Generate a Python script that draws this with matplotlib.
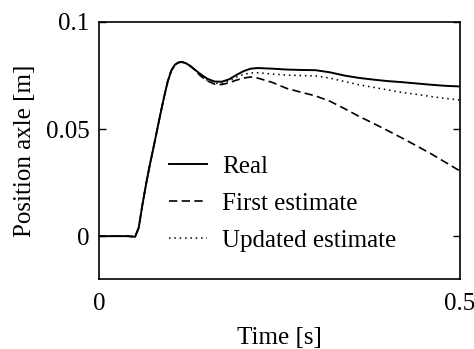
import matplotlib
matplotlib.use('Agg')
import matplotlib.pyplot as plt

# time [s]
t = [0.0, 0.04, 0.05, 0.055, 0.06, 0.065, 0.07, 0.075, 0.08, 0.085, 0.09, 0.095,
     0.10, 0.105, 0.11, 0.115, 0.12, 0.125, 0.13, 0.14, 0.15, 0.16, 0.17, 0.18,
     0.19, 0.20, 0.21, 0.22, 0.24, 0.26, 0.28, 0.30, 0.32, 0.34, 0.36, 0.38,
     0.40, 0.42, 0.44, 0.46, 0.48, 0.50]

# common part of the three curves (up to 0.13 s)
rise = [0.0, 0.0, -0.0003, 0.004, 0.0145, 0.024, 0.0327, 0.0407, 0.0488, 0.057,
        0.0648, 0.072, 0.0772, 0.0800, 0.0811, 0.0813, 0.0808, 0.0798, 0.0785]

real = rise + [0.0758, 0.0735, 0.0722, 0.0721, 0.0732, 0.0752, 0.0770, 0.0782,
               0.0785, 0.0782, 0.0778, 0.0776, 0.0775, 0.0765, 0.0750, 0.0739,
               0.0731, 0.0724, 0.0719, 0.0713, 0.0707, 0.0702, 0.0699]

first = rise + [0.0750, 0.0725, 0.0710, 0.0708, 0.0716, 0.0728, 0.0738, 0.0743,
                0.0738, 0.0718, 0.0690, 0.0672, 0.0655, 0.0630, 0.0596, 0.0560,
                0.0527, 0.0493, 0.0458, 0.0422, 0.0385, 0.0345, 0.0305]

updated = rise + [0.0753, 0.0728, 0.0714, 0.0713, 0.0724, 0.0742, 0.0755, 0.0762,
                  0.0763, 0.0757, 0.0752, 0.0750, 0.0748, 0.0738, 0.0722, 0.0707,
                  0.0695, 0.0683, 0.0671, 0.0662, 0.0652, 0.0643, 0.0636]

plt.rcParams['font.family'] = 'Liberation Serif'
plt.rcParams['font.size'] = 18

fig = plt.figure(figsize=(4.74, 3.49), dpi=100)
ax = fig.add_axes([0.209, 0.2006, 0.761, 0.7364])

ax.plot(t, real, color='black', lw=1.4, ls='-', label='Real')
ax.plot(t, first, color='black', lw=1.2, ls=(0, (5, 2.6)), label='First estimate')
ax.plot(t, updated, color='black', lw=1.1, ls=(0, (1, 2.5)), label='Updated estimate')

ax.set_xlim(0, 0.5)
ax.set_ylim(-0.02, 0.1)
ax.set_xticks([0, 0.5])
ax.set_xticklabels(['0', '0.5'])
ax.set_yticks([0, 0.05, 0.1])
ax.set_yticklabels(['0', '0.05', '0.1'])
ax.tick_params(axis='y', direction='in', length=5, width=1, right=True, pad=7)
ax.tick_params(axis='x', length=0, pad=10)
for s in ax.spines.values():
    s.set_linewidth(1.2)

ax.set_xlabel('Time [s]', labelpad=9)
ax.set_ylabel('Position axle [m]', labelpad=7)

ax.legend(loc='lower left', bbox_to_anchor=(0.195, 0.105), frameon=False,
          handlelength=1.5, handletextpad=0.6, labelspacing=0.58, borderpad=0,
          borderaxespad=0)

fig.savefig('out.png', dpi=100)
